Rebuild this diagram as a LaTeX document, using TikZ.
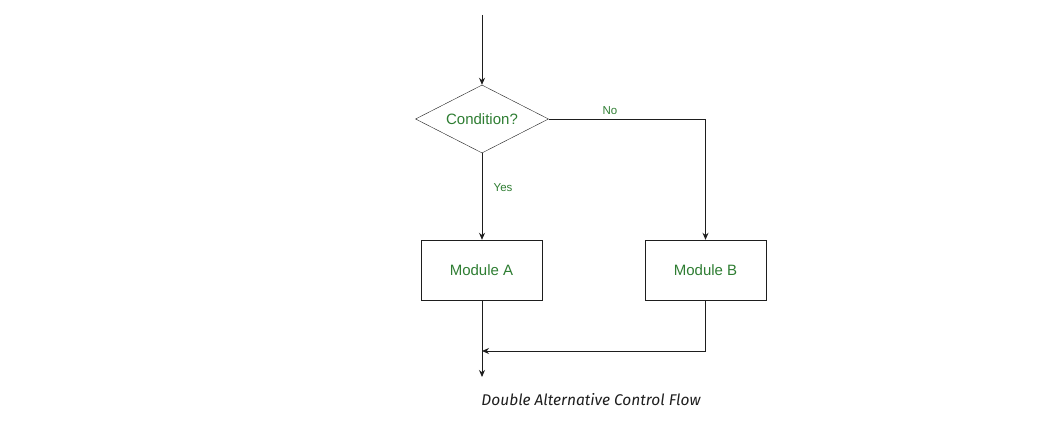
\documentclass[tikz,border=0pt]{standalone}
\usepackage{fontspec}
\setmainfont{Liberation Sans}
\newfontfamily\capfont{Fira Sans}
\usetikzlibrary{shapes.geometric,arrows.meta}

\begin{document}
\begin{tikzpicture}[x=1pt,y=-1pt]

\definecolor{gruen}{RGB}{46,125,50};
\definecolor{linie}{RGB}{30,30,30};

\tikzset{
  entscheid/.style = {draw=linie,diamond,aspect=1.96,inner sep=0pt,minimum width=133pt,minimum height=68pt,text=gruen,font=\fontsize{15}{18}\selectfont},
  modul/.style = {draw=linie,rectangle,minimum width=121pt,minimum height=60pt,text=gruen,font=\fontsize{15}{18}\selectfont},
  pfeil/.style = {draw=linie,line width=0.9pt,-{Stealth[length=7pt,width=6pt]}},
  linie/.style = {draw=linie,line width=0.9pt},
  marke/.style = {text=gruen,font=\fontsize{11.5}{14}\selectfont}
}

\useasboundingbox (0,0) rectangle (1062,435);

\coordinate (start) at (482,15);
\node[entscheid] (cond) at (482,119) {Condition?};
\node[modul] (modA) at (481.5,270) {Module A};
\node[modul] (modB) at (705.5,270) {Module B};
\coordinate (merge) at (482,351);
\coordinate (ende) at (482,377);

\draw[pfeil] (start) -- (cond.north);
\draw[pfeil] (cond.south) -- (modA.north -| cond.south);
\draw[pfeil] (cond.east) -| (modB.north);
\draw[linie] (modA.south -| merge) -- (merge);
\draw[pfeil] (merge) -- (ende);
\draw[pfeil] (modB.south) |- (merge);

\node[marke] (nein) at (610,111) {No};
\node[marke] (ja) at (503,188) {Yes};

\node[text=linie,font=\capfont\itshape\fontsize{15.5}{18}\selectfont] (titel) at (591,400) {Double Alternative Control Flow};

\end{tikzpicture}
\end{document}
